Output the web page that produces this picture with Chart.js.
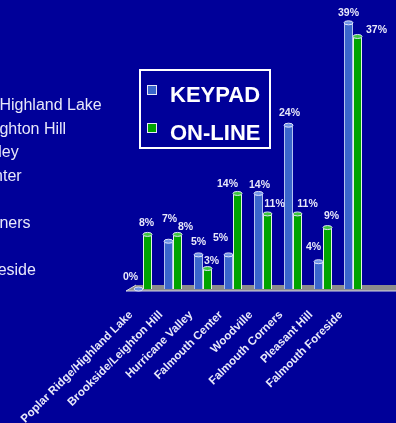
<!DOCTYPE html>
<html>
<head>
<meta charset="utf-8">
<title>Keypad vs On-line by neighborhood</title>
<script src="https://cdn.jsdelivr.net/npm/chart.js@4"></script>
<style>
  html, body { margin: 0; padding: 0; background: #000099; }
  canvas { display: block; }
</style>
</head>
<body>
<canvas id="voteChart" width="396" height="423"></canvas>
<script>
const neighborhoods = [
    "Poplar Ridge/Highland Lake",
    "Brookside/Leighton Hill",
    "Hurricane Valley",
    "Falmouth Center",
    "Woodville",
    "Falmouth Corners",
    "Pleasant Hill",
    "Falmouth Foreside"
];
const seriesNames = ["KEYPAD", "ON-LINE"];
const keypadPct = [0, 7, 5, 5, 14, 24, 4, 39];
const onlinePct = [8, 8, 3, 14, 11, 11, 9, 37];

// hand placed label nudges [dx, dy] from the top of each bar
const keypadLabelNudge = [[-8, -12], [1, -22], [0, -13], [-8, -17], [1, -8], [1, -12], [-5, -15], [0, -10]];
const onlineLabelNudge = [[-1, -11], [8, -7], [4, -7], [-10, -9], [7, -10], [10, -10], [4, -11], [19, -6]];

const BG = '#000099';
const TEXT = '#e8e8fa';
const KEYPAD_FILL = '#3a66cc';
const ONLINE_FILL = '#00a400';

const extrasPlugin = {
    id: 'extras',
    beforeDatasetsDraw(chart) {
        const ctx = chart.ctx;
        const area = chart.chartArea;
        const base = chart.scales.y.getPixelForValue(0);

        // floor slab
        ctx.save();
        ctx.fillStyle = '#8c8c8c';
        ctx.beginPath();
        ctx.moveTo(area.left - 2, base + 2);
        ctx.lineTo(area.left + 8, base - 4);
        ctx.lineTo(chart.width, base - 4);
        ctx.lineTo(chart.width, base + 2);
        ctx.closePath();
        ctx.fill();
        ctx.strokeStyle = '#d8d8e8';
        ctx.lineWidth = 1;
        ctx.beginPath();
        ctx.moveTo(area.left + 8, base - 4);
        ctx.lineTo(area.left - 2, base + 2);
        ctx.lineTo(chart.width, base + 2);
        ctx.stroke();
        ctx.restore();

        // text list at the left, clipped by the page edge
        ctx.save();
        ctx.fillStyle = TEXT;
        ctx.font = '16px Arial, "Liberation Sans", sans-serif';
        ctx.textAlign = 'left';
        ctx.textBaseline = 'alphabetic';
        neighborhoods.forEach((name, i) => {
            ctx.fillText(name, -97.5, 110 + i * 23.6);
        });
        ctx.restore();
    },
    afterDatasetsDraw(chart) {
        const ctx = chart.ctx;
        const xScale = chart.scales.x;
        const nudges = [keypadLabelNudge, onlineLabelNudge];
        const tops = ['#6f94e6', '#3cc83c'];

        // cylinder caps and value labels
        chart.data.datasets.forEach((ds, d) => {
            const meta = chart.getDatasetMeta(d);
            meta.data.forEach((bar, i) => {
                const w = bar.width;
                ctx.save();
                ctx.fillStyle = tops[d];
                ctx.strokeStyle = '#dfe3fb';
                ctx.lineWidth = 1;
                ctx.beginPath();
                ctx.ellipse(bar.x, bar.y, w / 2, 2, 0, 0, Math.PI * 2);
                ctx.fill();
                ctx.stroke();
                ctx.restore();

                ctx.save();
                ctx.fillStyle = TEXT;
                ctx.font = 'bold 10.5px Arial, "Liberation Sans", sans-serif';
                ctx.textAlign = 'center';
                ctx.textBaseline = 'middle';
                const n = nudges[d][i];
                ctx.fillText(ds.data[i] + '%', bar.x + n[0], bar.y + n[1]);
                ctx.restore();
            });
        });

        // slanted category names under the floor
        ctx.save();
        ctx.fillStyle = TEXT;
        ctx.font = 'bold 11.5px Arial, "Liberation Sans", sans-serif';
        ctx.textAlign = 'right';
        ctx.textBaseline = 'middle';
        neighborhoods.forEach((name, i) => {
            const x = xScale.getPixelForValue(i) - 12;
            ctx.save();
            ctx.translate(x, 313);
            ctx.rotate(-Math.PI / 4);
            ctx.fillText(name, 0, 0);
            ctx.restore();
        });
        ctx.restore();

        // boxed legend
        ctx.save();
        ctx.strokeStyle = '#ffffff';
        ctx.lineWidth = 2;
        ctx.strokeRect(140, 70, 130, 78);
        ctx.font = 'bold 22px Arial, "Liberation Sans", sans-serif';
        ctx.textAlign = 'left';
        ctx.textBaseline = 'alphabetic';
        chart.data.datasets.forEach((ds, d) => {
            const y = d === 0 ? 86 : 124;
            ctx.fillStyle = ds.backgroundColor;
            ctx.fillRect(148, y, 8, 8);
            ctx.strokeStyle = '#e8e8f8';
            ctx.lineWidth = 1;
            ctx.strokeRect(147.5, y - 0.5, 9, 9);
            ctx.fillStyle = '#ffffff';
            ctx.fillText(ds.label, 170, d === 0 ? 102 : 140);
        });
        ctx.restore();
    }
};

new Chart(document.getElementById('voteChart'), {
    type: 'bar',
    data: {
        labels: neighborhoods,
        datasets: [
            {
                label: seriesNames[0],
                data: keypadPct,
                backgroundColor: KEYPAD_FILL,
                borderColor: '#b4c2f2',
                borderWidth: 1,
                categoryPercentage: 0.6,
                barPercentage: 1.0
            },
            {
                label: seriesNames[1],
                data: onlinePct,
                backgroundColor: ONLINE_FILL,
                borderColor: '#e4f2e4',
                borderWidth: 1,
                categoryPercentage: 0.6,
                barPercentage: 1.0
            }
        ]
    },
    options: {
        responsive: false,
        animation: false,
        layout: { padding: { left: 128, right: 28, top: 16, bottom: 134 } },
        scales: {
            x: { display: false },
            y: { display: false, min: 0, max: 40 }
        },
        plugins: {
            legend: { display: false },
            tooltip: { enabled: false }
        }
    },
    plugins: [extrasPlugin]
});
</script>
</body>
</html>
